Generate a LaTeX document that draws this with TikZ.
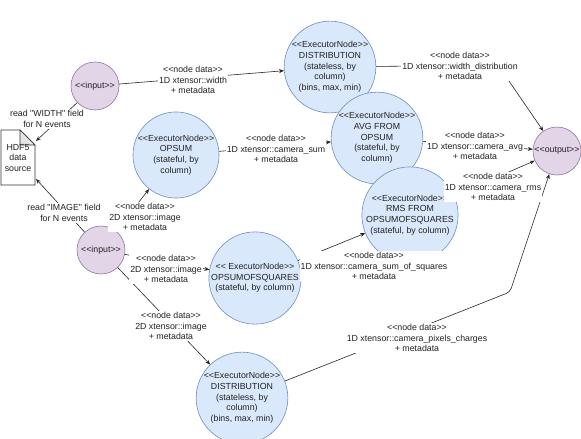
\documentclass[tikz,border=0pt]{standalone}
\usepackage{fontspec}
\setmainfont{Liberation Sans}[Ligatures=TeXOff]
\usetikzlibrary{arrows.meta}
\definecolor{purpFill}{HTML}{E1D5E7}
\definecolor{purpStroke}{HTML}{9673A6}
\definecolor{blueFill}{HTML}{DAE8FC}
\definecolor{blueStroke}{HTML}{6C8EBF}
\definecolor{txt}{HTML}{222222}
\begin{document}
\begin{tikzpicture}[x=1pt,y=-1pt,
 every node/.style={font=\fontsize{8.8}{10.7}\selectfont, align=center, inner sep=0pt, text=txt},
 ionode/.style={circle, draw=purpStroke, fill=purpFill, minimum size=48pt, line width=0.6pt},
 exnode/.style={circle, draw=blueStroke, fill=blueFill, minimum size=80pt, line width=0.6pt},
 lbl/.style={fill=white, inner sep=1pt},
 conn/.style={draw=black!85, line width=0.6pt, -{Stealth[length=5pt,width=4pt]}},
 plain/.style={draw=black!85, line width=0.6pt}
]
\useasboundingbox (0,0) rectangle (581,439);

% nodes
\node[ionode] (in1) at (95,86) {<<input>>};
\node[ionode] (in2) at (101,250) {<<input>>};
\node[ionode] (out) at (557,151) {<<output>>};
\node[exnode] (dist1) at (330,67) {<<ExecutorNode>>\\DISTRIBUTION\\(stateless, by\\column)\\(bins, max, min)};
\node[exnode] (opsum) at (176,155) {<<ExecutorNode>>\\OPSUM\\(stateful, by\\column)};
\node[exnode] (avg) at (377,138) {<<ExecutorNode>>\\AVG FROM\\OPSUM\\(stateful, by\\column)};
\node[exnode] (rms) at (410,215) {<<ExecutorNode>>\\RMS FROM\\OPSUMOFSQUARES\\(stateful, by column)};
\node[exnode] (opsq) at (255,278) {<< ExecutorNode>>\\OPSUMOFSQUARES\\(stateful, by column)};
\node[exnode] (dist2) at (242,398) {<<ExecutorNode>>\\DISTRIBUTION\\(stateless, by\\column)\\(bins, max, min)};

% HDF5 document
\draw[line width=0.8pt, draw=black!80, fill=white] (1,130) -- (20,130) -- (35,145) -- (35,185) -- (1,185) -- cycle;
\draw[line width=0.6pt, draw=black!80, fill=black!10] (20,130) -- (20,145) -- (35,145) -- cycle;
\node (hdf) at (18,158) {HDF5\\data\\source};
\coordinate (hdfA) at (36,141);
\coordinate (hdfB) at (36,179);

% waypoints
\coordinate (w1) at (498,65);
\coordinate (w2) at (510,292);

% connectors
\draw[conn] (in1) -- (dist1);
\draw[conn] (dist1) -- (w1) -- (out);
\draw[conn] (opsum) -- (avg);
\draw[conn] (avg) -- (out);
\draw[conn] (rms) -- (out);
\draw[conn, rounded corners=4pt] (dist2) -- (w2) -- (out);
\draw[conn] (opsq) -- (rms);
\draw[conn] (in2) -- (opsum);
\draw[conn] (in2) -- (opsq);
\draw[conn] (in2) -- (dist2);
\draw[conn] (in1) -- (hdfA);
\draw[conn] (in2) -- (hdfB);

% labels
\node[lbl] (l1) at (193,80) {<<node data>>\\1D xtensor::width\\+ metadata};
\node[lbl] (l2) at (460,66) {<<node data>>\\1D xtensor::width\_distribution\\+ metadata};
\node[lbl] (l3) at (276,149) {<<node data>>\\1D xtensor::camera\_sum\\+ metadata};
\node[lbl] (l4) at (475,146) {<<node data>>\\1D xtensor::camera\_avg\\+ metadata};
\node[lbl] (l5) at (493,187) {<<node data>>\\1D xtensor::camera\_rms\\+ metadata};
\node[lbl] (l6) at (417,338) {<<node data>>\\1D xtensor::camera\_pixels\_charges\\+ metadata};
\node[lbl] (l7) at (374,266) {<<node data>>\\1D xtensor::camera\_sum\_of\_squares\\+ metadata};
\node[lbl] (l8) at (145,217) {<<node data>>\\2D xtensor::image\\+ metadata};
\node[lbl] (l9) at (166,269) {<<node data>>\\2D xtensor::image\\+ metadata};
\node[lbl] (l10) at (171,326) {<<node data>>\\2D xtensor::image\\+ metadata};
\node[lbl] (l11) at (47,119) {read "WIDTH" field\\for N events};
\node[lbl] (l12) at (64,213) {read "IMAGE" field\\for N events};
\end{tikzpicture}
\end{document}
